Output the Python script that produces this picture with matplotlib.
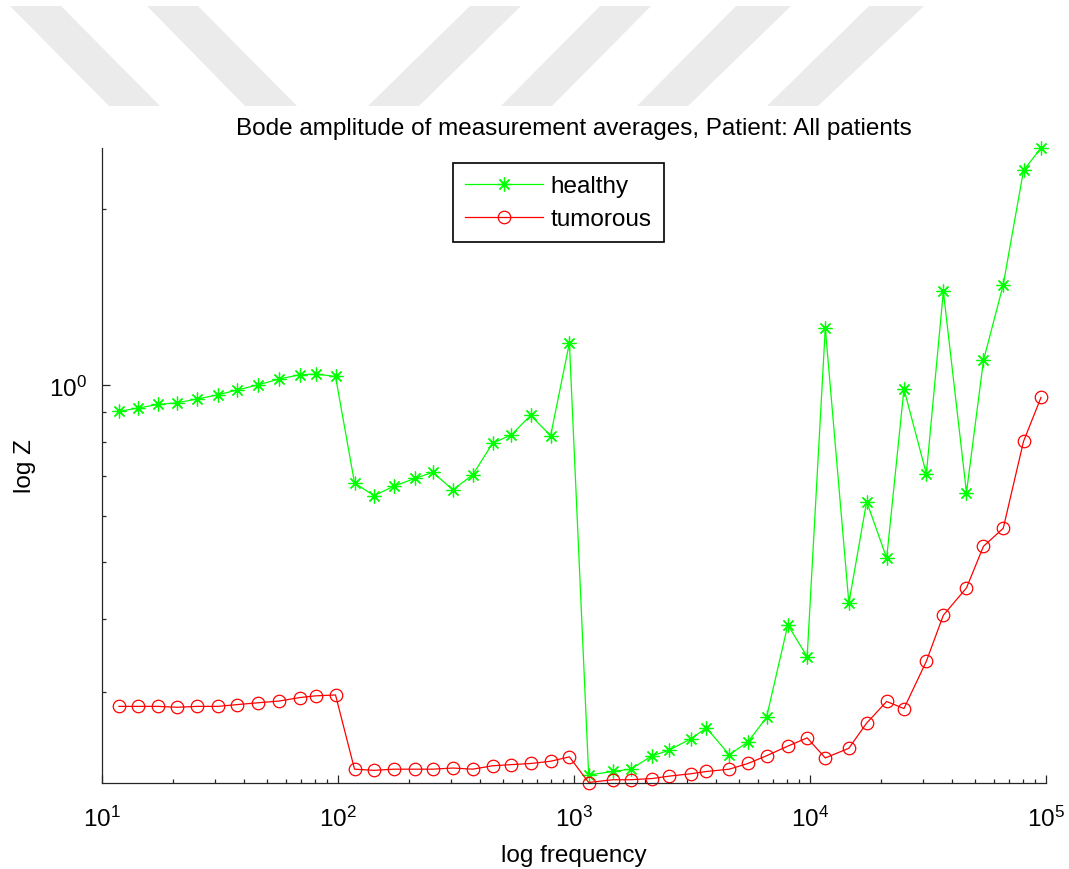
import matplotlib
matplotlib.use('Agg')
from matplotlib import pyplot as plt
from matplotlib.patches import Polygon
from matplotlib.ticker import LogLocator, NullFormatter
import numpy as np

# measurement frequencies (Hz) and averaged |Z|
freq = [11.8, 14.2, 17.3, 20.8, 25.3, 31.0, 37.4, 45.7, 56.3, 68.9, 80.6, 97.6,
        117.5, 142, 172, 213, 252, 307, 372, 452, 543, 655, 796, 956,
        1154, 1460, 1740, 2143, 2522, 3118, 3642, 4546, 5456, 6543, 8054, 9727,
        11610, 14610, 17380, 21130, 25010, 31120, 36730, 46030, 54330, 65890, 80310, 95270]
healthy = [0.903, 0.915, 0.928, 0.934, 0.948, 0.964, 0.982, 1.002, 1.025, 1.043, 1.045, 1.036,
           0.682, 0.649, 0.673, 0.695, 0.711, 0.664, 0.704, 0.797, 0.824, 0.889, 0.821, 1.181,
           0.217, 0.220, 0.222, 0.234, 0.239, 0.250, 0.261, 0.235, 0.247, 0.272, 0.391, 0.345,
           1.252, 0.426, 0.634, 0.508, 0.986, 0.707, 1.446, 0.657, 1.103, 1.484, 2.324, 2.537]
tumorous = [0.284, 0.284, 0.284, 0.283, 0.284, 0.284, 0.286, 0.288, 0.290, 0.294, 0.296, 0.297,
            0.222, 0.221, 0.222, 0.222, 0.222, 0.223, 0.222, 0.225, 0.226, 0.227, 0.229, 0.233,
            0.2107, 0.213, 0.213, 0.214, 0.216, 0.218, 0.220, 0.222, 0.227, 0.234, 0.243, 0.251,
            0.232, 0.241, 0.266, 0.2895, 0.2816, 0.339, 0.406, 0.452, 0.532, 0.571, 0.803, 0.954]
labels = ['healthy', 'tumorous']

plt.rcParams['font.family'] = ['Liberation Sans', 'DejaVu Sans']
plt.rcParams['mathtext.fontset'] = 'custom'
plt.rcParams['mathtext.rm'] = 'Liberation Sans'
fs = 17.5

W, H = 1069, 870
fig = plt.figure(figsize=(W / 100, H / 100), dpi=100)

# grey watermark stripes at the top of the page
stripes = [((10, 61), (109, 160)), ((147, 198), (245, 297)), ((470, 521), (368, 419)),
           ((600, 651), (501, 552)), ((736, 791), (637, 688)), ((869, 924), (767, 818))]
for top, bot in stripes:
    pts = [(top[0], 7), (top[1], 7), (bot[1], 107), (bot[0], 107)]
    pts = [(px / W, 1 - py / H) for px, py in pts]
    fig.patches.append(Polygon(pts, closed=True, transform=fig.transFigure,
                               facecolor='#ebebeb', edgecolor='none', zorder=0))

ax = fig.add_axes([102 / W, 1 - 783.5 / H, (1046 - 102) / W, (783.5 - 149) / H])
ax.patch.set_alpha(0)

ax.plot(freq, healthy, color='#00ff00', lw=0.9, marker=(8, 2, 0), ms=10, mew=0.9,
        label=labels[0], clip_on=False)
ax.plot(freq, tumorous, color='#ff0000', lw=0.9, marker='o', ms=9, mfc='none', mew=0.9,
        label=labels[1], clip_on=False)

ax.set_xscale('log')
ax.set_yscale('log')
ax.set_xlim(10, 1e5)
ax.set_ylim(min(tumorous), max(healthy))

ax.xaxis.set_major_locator(LogLocator(base=10))
ax.xaxis.set_minor_locator(LogLocator(base=10, subs=np.arange(2, 10)))
ax.yaxis.set_major_locator(LogLocator(base=10))
ax.yaxis.set_minor_locator(LogLocator(base=10, subs=np.arange(2, 10)))
ax.xaxis.set_minor_formatter(NullFormatter())
ax.yaxis.set_minor_formatter(NullFormatter())

for s in ['top', 'right']:
    ax.spines[s].set_visible(False)
for s in ['left', 'bottom']:
    ax.spines[s].set_color('#262626')
    ax.spines[s].set_linewidth(0.9)

ax.tick_params(which='both', direction='in', color='#262626', width=0.9, labelsize=fs)
ax.tick_params(axis='x', which='both', pad=17)
ax.tick_params(axis='y', which='both', pad=11)
ax.tick_params(which='major', length=5.5)
ax.tick_params(which='minor', length=3)

ax.set_title('Bode amplitude of measurement averages, Patient: All patients',
             fontsize=fs, pad=10)
ax.set_xlabel('log frequency', fontsize=fs, labelpad=9)
ax.set_ylabel('log Z', fontsize=fs, labelpad=9)

leg = ax.legend(loc='upper center', bbox_to_anchor=(0.4836, 0.976), fontsize=fs,
                fancybox=False, framealpha=1, edgecolor='black', handlelength=3.2,
                handletextpad=0.3, borderpad=0.5, labelspacing=0.45, borderaxespad=0)
leg.get_frame().set_linewidth(1.2)

fig.savefig('out.png', dpi=100)
